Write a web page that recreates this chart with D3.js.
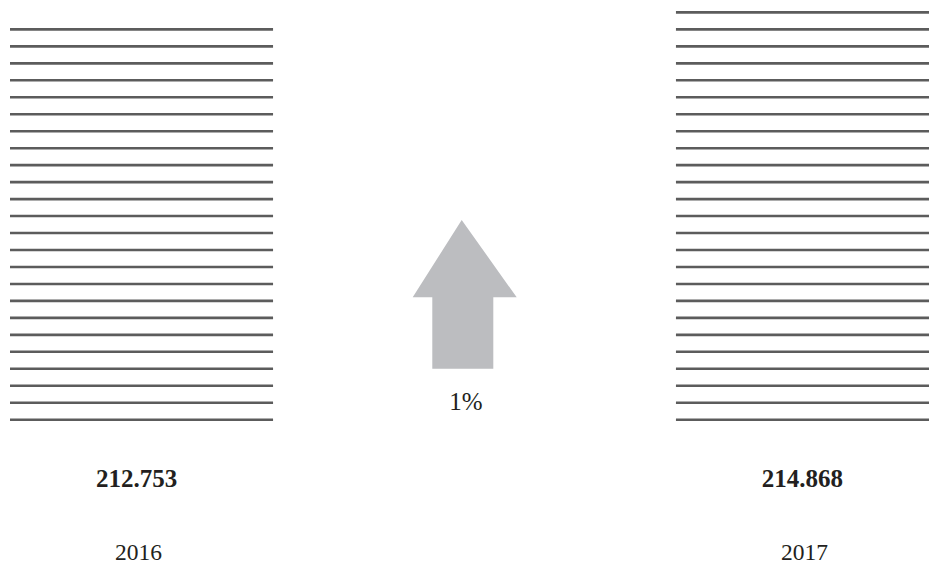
<!DOCTYPE html>
<html>
<head>
<meta charset="utf-8">
<script src="https://cdn.jsdelivr.net/npm/d3@7/dist/d3.min.js"></script>
<style>
  html, body { margin: 0; padding: 0; background: #ffffff; }
  svg { display: block; }
  text { font-family: "Liberation Serif", "DejaVu Serif", serif; fill: #231f20; }
</style>
</head>
<body>
<svg id="chart" width="929" height="566"></svg>
<script>
// Population totals per year
const years = ["2016", "2017"];
const values = [212.753, 214.868];
const valueLabels = ["212.753", "214.868"];
const changeLabel = "1%";

const width = 929, height = 566;
const svg = d3.select("#chart");

// Horizontal placement of the two striped columns
const x = d3.scaleBand()
  .domain(years)
  .range([10, 939])
  .paddingInner(0.605)
  .paddingOuter(0);

// Vertical scale: baseline sits on the lowest stripe
const baseline = 419.7;
const y = d3.scaleLinear()
  .domain([160, 215])
  .range([baseline, 10]);

const stripeStep = 16.97;

// Each column is built from evenly spaced stripes up to its value
years.forEach((yr, i) => {
  const top = y(values[i]);
  const stripes = d3.range(0, 40)
    .map(k => baseline - k * stripeStep)
    .filter(v => v >= top - 0.01);

  svg.append("g")
    .selectAll("line")
    .data(stripes)
    .join("line")
    .attr("x1", x(yr))
    .attr("x2", x(yr) + x.bandwidth())
    .attr("y1", d => d)
    .attr("y2", d => d)
    .attr("stroke", "#5c5c5c")
    .attr("stroke-width", 2.6);

  const cx = x(yr) + x.bandwidth() / 2 - 5;

  svg.append("text")
    .attr("x", cx)
    .attr("y", 486.5)
    .attr("text-anchor", "middle")
    .attr("font-size", 25)
    .attr("font-weight", "bold")
    .text(valueLabels[i]);

  svg.append("text")
    .attr("x", cx + 2)
    .attr("y", 560)
    .attr("text-anchor", "middle")
    .attr("font-size", 23.5)
    .text(yr);
});

// Growth arrow between the columns
const ax = 463;
const arrow = d3.path();
arrow.moveTo(ax - 1.3, 220);
arrow.lineTo(ax + 53.7, 297.3);
arrow.lineTo(ax + 30.3, 297.3);
arrow.lineTo(ax + 30.3, 368.7);
arrow.lineTo(ax - 30.7, 368.7);
arrow.lineTo(ax - 30.7, 297.3);
arrow.lineTo(ax - 50.3, 297.3);
arrow.closePath();

svg.append("path")
  .attr("d", arrow.toString())
  .attr("fill", "#bcbdc0");

svg.append("text")
  .attr("x", ax + 3)
  .attr("y", 410)
  .attr("text-anchor", "middle")
  .attr("font-size", 25)
  .text(changeLabel);
</script>
</body>
</html>
